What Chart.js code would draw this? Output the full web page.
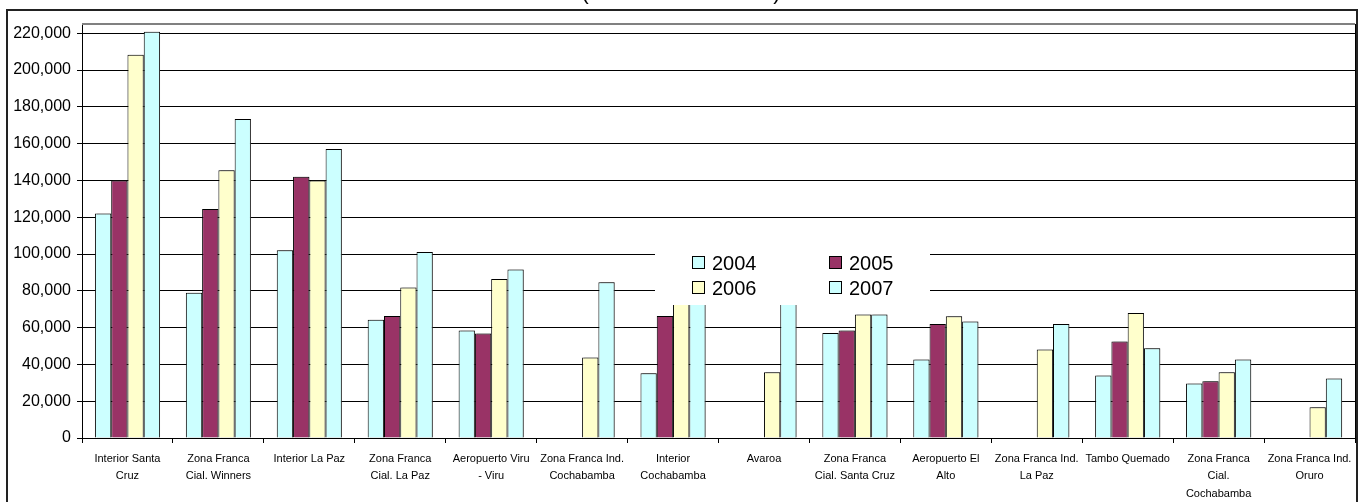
<!DOCTYPE html>
<html><head><meta charset="utf-8">
<script src="https://cdn.jsdelivr.net/npm/chart.js@4.4.1/dist/chart.umd.min.js"></script>
<style>html,body{margin:0;padding:0;background:#fff;overflow:hidden}#wrap{width:1362px;height:502px;position:relative}</style>
</head><body><div id="wrap"><canvas id="c"></canvas></div>
<script>
const FONT = '"Liberation Sans", Arial, sans-serif';
const titleText = '(En miles de dólares)';
const categories = [
  ['Interior Santa', 'Cruz'],
  ['Zona Franca', 'Cial. Winners'],
  ['Interior La Paz'],
  ['Zona Franca', 'Cial. La Paz'],
  ['Aeropuerto Viru', '- Viru'],
  ['Zona Franca Ind.', 'Cochabamba'],
  ['Interior', 'Cochabamba'],
  ['Avaroa'],
  ['Zona Franca', 'Cial. Santa Cruz'],
  ['Aeropuerto El', 'Alto'],
  ['Zona Franca Ind.', 'La Paz'],
  ['Tambo Quemado'],
  ['Zona Franca', 'Cial.', 'Cochabamba'],
  ['Zona Franca Ind.', 'Oruro']
];
const seriesNames = ['2004', '2005', '2006', '2007'];
const values2004 = [122000, 79000, 102000, 64200, 58400, null, 35200, null, 57000, 42600, null, 33900, 29600, null];
const values2005 = [140000, 124500, 142000, 66300, 56800, null, 66300, null, 58400, 61900, null, 52400, 30900, null];
const values2006 = [208300, 145500, 140000, 81800, 86400, 43700, 80000, 35800, 67100, 66200, 48100, 67900, 35800, 16700];
const values2007 = [220800, 173400, 157000, 101100, 91600, 84600, 90000, 85000, 67100, 63300, 61900, 48800, 42600, 32300];
const seriesColors = ['#CCFFFF', '#993366', '#FFFFCC', '#CCFFFF'];
const yTickValues = [0, 20000, 40000, 60000, 80000, 100000, 120000, 140000, 160000, 180000, 200000, 220000];
const yMax = 225000;

const allValues = [values2004, values2005, values2006, values2007];

const decor = {
  id: 'decor',
  beforeDraw(chart) {
    const ctx = chart.ctx;
    ctx.save();
    ctx.fillStyle = '#fff';
    ctx.fillRect(0, 0, chart.width, chart.height);
    ctx.restore();
  },
  beforeDatasetsDraw(chart) {
    const ctx = chart.ctx;
    ctx.save();
    ctx.shadowColor = 'rgba(90,90,90,0.55)';
    ctx.shadowOffsetX = 2;
    ctx.shadowOffsetY = 0;
    ctx.shadowBlur = 0;
  },
  afterDatasetsDraw(chart) {
    const ctx = chart.ctx;
    ctx.restore();
    // legend box drawn over the plot
    ctx.save();
    ctx.fillStyle = '#fff';
    ctx.fillRect(655, 245, 275, 60);
    ctx.font = '20px ' + FONT;
    ctx.textBaseline = 'middle';
    ctx.textAlign = 'left';
    const colX = [692, 829];
    const rowY = [263, 288];
    chart.data.datasets.forEach((ds, i) => {
      const x = colX[i % 2];
      const y = rowY[Math.floor(i / 2)];
      ctx.fillStyle = ds.backgroundColor;
      ctx.fillRect(x + 0.5, y - 6.5, 12, 12);
      ctx.strokeStyle = '#000';
      ctx.lineWidth = 1;
      ctx.strokeRect(x + 0.5, y - 6.5, 12, 12);
      ctx.fillStyle = '#000';
      ctx.fillText(ds.label, x + 20, y + 1);
    });
    ctx.restore();
  },
  afterDraw(chart) {
    const ctx = chart.ctx;
    const a = chart.chartArea;
    ctx.save();
    ctx.strokeStyle = '#808080';
    ctx.lineWidth = 2;
    ctx.beginPath();
    ctx.moveTo(a.left, a.top);
    ctx.lineTo(a.right, a.top);
    ctx.stroke();
    ctx.strokeStyle = '#000';
    ctx.lineWidth = 1;
    ctx.beginPath();
    ctx.moveTo(a.right + 0.5, a.top);
    ctx.lineTo(a.right + 0.5, a.bottom);
    ctx.stroke();
    ctx.strokeStyle = '#222';
    ctx.lineWidth = 2;
    ctx.strokeRect(7, 10, 1350, 600);
    ctx.fillStyle = '#000';
    ctx.font = '21px ' + FONT;
    ctx.textAlign = 'center';
    ctx.textBaseline = 'alphabetic';
    ctx.fillText(titleText, chart.width / 2, 0);
    ctx.restore();
  }
};

new Chart(document.getElementById('c'), {
  type: 'bar',
  data: {
    labels: categories,
    datasets: seriesNames.map((name, i) => ({
      label: name,
      data: allValues[i],
      backgroundColor: seriesColors[i],
      borderColor: '#000',
      borderWidth: 1,
      categoryPercentage: 0.716,
      barPercentage: 1.0
    }))
  },
  options: {
    responsive: true,
    maintainAspectRatio: false,
    animation: false,
    layout: { padding: { top: 24, right: 7, left: 0, bottom: 0 } },
    plugins: {
      legend: { display: false },
      title: { display: false },
      tooltip: { enabled: false }
    },
    scales: {
      x: {
        grid: { display: true, drawOnChartArea: false, drawTicks: true, tickLength: 5, color: '#000', offset: true },
        border: { color: '#000', width: 1 },
        ticks: { font: { size: 11, family: FONT, lineHeight: 1.6 }, color: '#000', maxRotation: 0, minRotation: 0, autoSkip: false, padding: 7 },
        afterFit(s) { s.height = 64; }
      },
      y: {
        min: 0,
        max: yMax,
        afterBuildTicks(axis) { axis.ticks = yTickValues.map(v => ({ value: v })); },
        grid: { color: '#000', lineWidth: 1, tickLength: 5, drawTicks: true },
        border: { color: '#000', width: 1 },
        ticks: {
          font: { size: 16, family: FONT },
          color: '#000',
          padding: 6,
          callback: v => Number(v).toLocaleString('en-US')
        },
        afterFit(s) { s.width = 82; }
      }
    }
  },
  plugins: [decor]
});
</script>
</body></html>
